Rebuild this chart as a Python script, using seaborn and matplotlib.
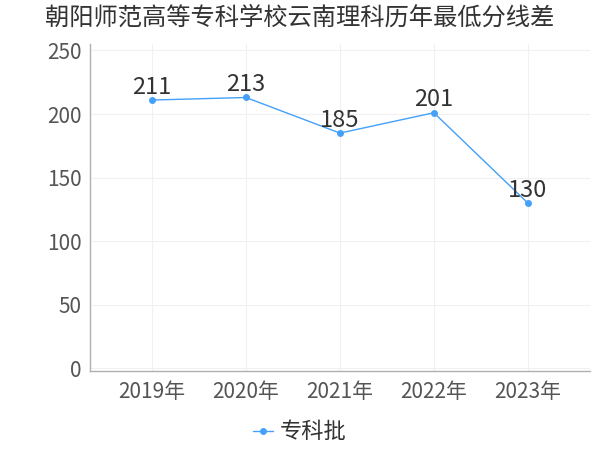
import matplotlib
matplotlib.use("Agg")
import matplotlib.pyplot as plt
import seaborn as sns
import pandas as pd

# data
years = ["2019年", "2020年", "2021年", "2022年", "2023年"]
scores = [211, 213, 185, 201, 130]
series_name = "专科批"

df = pd.DataFrame({"year": years, "score": scores, "batch": series_name})

sns.set_style("whitegrid")
plt.rcParams['font.family'] = ['Noto Sans CJK SC', 'DejaVu Sans']

fig = plt.figure(figsize=(6, 4.5), dpi=100)
ax = fig.add_axes([0.15, 0.176, 0.833, 0.726])

line_color = "#44a0f8"
sns.lineplot(data=df, x="year", y="score", hue="batch", palette=[line_color],
             marker="o", markersize=5, markeredgewidth=0, linewidth=1, sort=False, ax=ax)

for i, v in enumerate(scores):
    ax.text(i, v + 1, str(v), ha="center", va="bottom", fontsize=17, color="#333333")

ax.set_xlim(-0.66, 4.66)
ax.set_ylim(-2, 255)
ax.set_yticks([0, 50, 100, 150, 200, 250])
ax.set_xlabel("")
ax.set_ylabel("")
ax.grid(True, color="#f0f0f0", linewidth=0.8)
for s in ["top", "right"]:
    ax.spines[s].set_visible(False)
for s in ["left", "bottom"]:
    ax.spines[s].set_color("#b0b0b0")
    ax.spines[s].set_linewidth(1)
ax.tick_params(axis="both", labelsize=15, colors="#555555", length=4, color="#b0b0b0")
ax.tick_params(axis="y", pad=2)
ax.tick_params(axis="x", pad=3)

fig.suptitle("朝阳师范高等专科学校云南理科历年最低分线差", x=0.5, y=0.99,
             fontsize=17.5, color="#333333")

handles, labels = ax.get_legend_handles_labels()
ax.get_legend().remove()
leg = fig.legend(handles, labels, loc="center", bbox_to_anchor=(0.5, 0.04),
                 frameon=False, fontsize=16, handlelength=0.9, handletextpad=0.3)
for t in leg.get_texts():
    t.set_color("#333333")

fig.savefig("out.png", dpi=100)
